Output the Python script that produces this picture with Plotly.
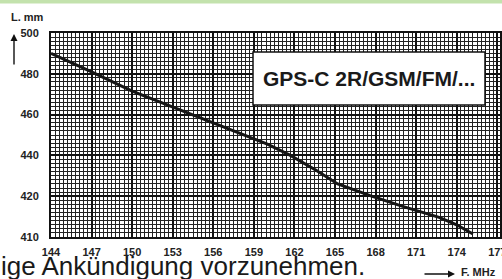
import plotly.graph_objects as go

# ---- data ----
freq_mhz = [144, 147, 150, 152.5, 154.3, 156.2, 158.4, 160, 161.7, 163.6, 165.2, 167.6, 170, 172.7, 174, 175.2]
length_mm = [490, 481, 471.5, 465, 460, 455, 449.5, 445.5, 440, 432.7, 426, 420.3, 415, 409.6, 406, 401.5]

x_tickvals = [144, 147, 150, 153, 156, 159, 162, 165, 168, 171, 174, 177]
x_ticktext = ["144", "147", "150", "153", "156", "159", "162", "165", "168", "171", "174", "177"]
y_tickvals = [400, 420, 440, 460, 480, 500]
y_ticktext = ["410", "420", "440", "460", "480", "500"]

label_text = "GPS-C 2R/GSM/FM/..."
y_title = "L. mm"
x_title = "F. MHz"
footer_text = "ige Ankündigung vorzunehmen."

W, H = 502, 279
ML, MR, MT, MB = 51, 2, 33, 42
PW, PH = W - ML - MR, H - MT - MB


def px(x):
    return (x - ML) / PW


def py(y):
    return (H - MB - y) / PH


FONT = "Liberation Sans, Arial, Helvetica, sans-serif"

fig = go.Figure()
fig.add_trace(go.Scatter(x=freq_mhz, y=length_mm, mode="lines",
                         line=dict(color="#151515", width=3),
                         hoverinfo="skip", showlegend=False))

fig.update_layout(
    width=W, height=H,
    margin=dict(l=ML, r=MR, t=MT, b=MB, autoexpand=False),
    paper_bgcolor="white", plot_bgcolor="white",
    font=dict(family=FONT, color="#222"),
    xaxis=dict(range=[144, 177.2], tickmode="array", tickvals=x_tickvals, ticktext=x_ticktext,
               showgrid=True, gridcolor="#111", gridwidth=2,
               minor=dict(dtick=0.3, tick0=144, showgrid=True, gridcolor="#222", gridwidth=1),
               showline=True, linecolor="#111", linewidth=2, mirror=True,
               zeroline=False, ticks="", ticklabelstandoff=4, automargin=False,
               ticklabeloverflow="allow",
               tickfont=dict(family=FONT, size=11, color="#222", weight="bold")),
    yaxis=dict(range=[400, 500], tickmode="array", tickvals=y_tickvals, ticktext=y_ticktext,
               showgrid=True, gridcolor="#111", gridwidth=2,
               minor=dict(dtick=2, tick0=400, showgrid=True, gridcolor="#222", gridwidth=1),
               showline=True, linecolor="#111", linewidth=2, mirror=True,
               zeroline=False, ticks="", ticklabelstandoff=8, automargin=False,
               ticklabeloverflow="allow",
               tickfont=dict(family=FONT, size=11, color="#222", weight="bold")),
    shapes=[
        dict(type="rect", xref="paper", yref="paper", x0=px(0), x1=px(W), y0=py(0), y1=py(3.5),
             fillcolor="#c3e2ad", line=dict(width=0), layer="above"),
        dict(type="rect", xref="paper", yref="paper", x0=px(253), x1=px(485), y0=py(105), y1=py(52),
             fillcolor="white", line=dict(color="#111", width=1.5), layer="above"),
    ],
    annotations=[
        dict(text=label_text, xref="paper", yref="paper", x=px(369), y=py(78.5),
             xanchor="center", yanchor="middle", showarrow=False,
             font=dict(family=FONT, size=21, color="#1a1a1a", weight="bold")),
        dict(text=y_title, xref="paper", yref="paper", x=px(9), y=py(16.5),
             xanchor="left", yanchor="middle", showarrow=False,
             font=dict(family=FONT, size=11, color="#222", weight="bold")),
        dict(text="", xref="paper", yref="paper", x=px(14), y=py(34), ax=0, ay=32,
             showarrow=True, arrowhead=2, arrowsize=1, arrowwidth=1.4, arrowcolor="#111"),
        dict(text="", xref="paper", yref="paper", x=px(455), y=py(274), ax=-32, ay=0,
             showarrow=True, arrowhead=2, arrowsize=1, arrowwidth=1.4, arrowcolor="#111"),
        dict(text=x_title, xref="paper", yref="paper", x=px(459), y=py(271.5),
             xanchor="left", yanchor="middle", showarrow=False,
             font=dict(family=FONT, size=11, color="#222", weight="bold")),
        dict(text=footer_text, xref="paper", yref="paper", x=px(-1), y=py(266),
             xanchor="left", yanchor="middle", showarrow=False,
             font=dict(family=FONT, size=26, color="#1a1a1a")),
    ],
)

fig.write_html("out.html", config={"displayModeBar": False, "staticPlot": True},
               post_script="document.body.style.margin='0';document.body.style.overflow='hidden';")
